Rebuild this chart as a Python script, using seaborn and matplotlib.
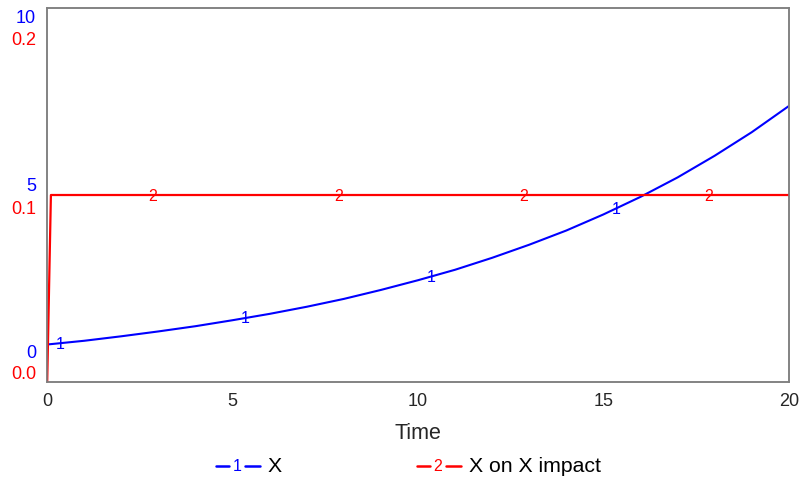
import numpy as np
import matplotlib
matplotlib.use("Agg")
import matplotlib.pyplot as plt
from matplotlib.lines import Line2D
import seaborn as sns

# data
time = list(range(0, 21))
x_vals = [1.00, 1.10, 1.22, 1.35, 1.49, 1.65, 1.82, 2.01, 2.22, 2.46, 2.72,
          3.00, 3.32, 3.67, 4.05, 4.48, 4.95, 5.47, 6.05, 6.68, 7.38]
impact_time = [0, 0.1, 20]
impact_vals = [0.0, 0.1, 0.1]
x_label_times = [0.35, 5.35, 10.35, 15.35]
impact_label_times = [2.85, 7.85, 12.85, 17.85]
x_ticks = [0, 5, 10, 15, 20]
blue_ticks = [10, 5, 0]
red_ticks = ["0.2", "0.1", "0.0"]

sns.set_style("white")
plt.rcParams['font.family'] = ['Liberation Sans', 'DejaVu Sans']

fig = plt.figure(figsize=(8, 4.81), dpi=100)
ax = fig.add_axes([0.059, 0.204, 0.927, 0.777])
ax2 = ax.twinx()

sns.lineplot(x=time, y=x_vals, ax=ax, color="#0000ff", linewidth=1.5)
sns.lineplot(x=impact_time, y=impact_vals, ax=ax2, color="#ff0000", linewidth=1.6)

ax.set_xlim(0, 20)
ax.set_ylim(0, 10)
ax2.set_ylim(0, 0.2)

# numbers along the lines
for tt in x_label_times:
    ax.text(tt, np.interp(tt, time, x_vals), "1", color="#0000ff",
            fontsize=11.5, ha="center", va="center")
for tt in impact_label_times:
    ax2.text(tt, np.interp(tt, impact_time, impact_vals), "2", color="#ff0000",
             fontsize=11.5, ha="center", va="center")

for a in (ax, ax2):
    for s in a.spines.values():
        s.set_color("#808080")
        s.set_linewidth(1.1)
    a.set_yticks([])
    a.set_ylabel("")

ax.set_xticks(x_ticks)
ax.set_xticklabels([str(v) for v in x_ticks])
ax.tick_params(axis="x", length=0, pad=7.5, labelsize=13)
ax.set_xlabel("Time", fontsize=15.5, labelpad=9)

# stacked y labels (blue scale above red scale)
offsets = [(-6.5, -22.5), (6.5, -10), (21.5, 6)]
for bv, rv, (ob, orr) in zip(blue_ticks, red_ticks, offsets):
    ax.annotate(str(bv), xy=(0, bv), xycoords=("axes fraction", "data"),
                xytext=(-8, ob), textcoords="offset points",
                ha="right", va="center", color="#0000ff", fontsize=13)
    ax.annotate(rv, xy=(0, bv), xycoords=("axes fraction", "data"),
                xytext=(-8, orr), textcoords="offset points",
                ha="right", va="center", color="#ff0000", fontsize=13)

# legend drawn below the plot
ly = 1 - 467 / 481
def legend_item(x0, color, num, label):
    fig.add_artist(Line2D([x0 / 800, (x0 + 13) / 800], [ly, ly], color=color, linewidth=1.8))
    fig.text((x0 + 21) / 800, ly, num, color=color, fontsize=11.5, ha="center", va="center")
    fig.add_artist(Line2D([(x0 + 29) / 800, (x0 + 44) / 800], [ly, ly], color=color, linewidth=1.8))
    fig.text((x0 + 52) / 800, ly, label, color="black", fontsize=15.3, ha="left", va="center")

legend_item(216, "#0000ff", "1", "X")
legend_item(417, "#ff0000", "2", "X on X impact")

plt.savefig("out.png", dpi=100)
